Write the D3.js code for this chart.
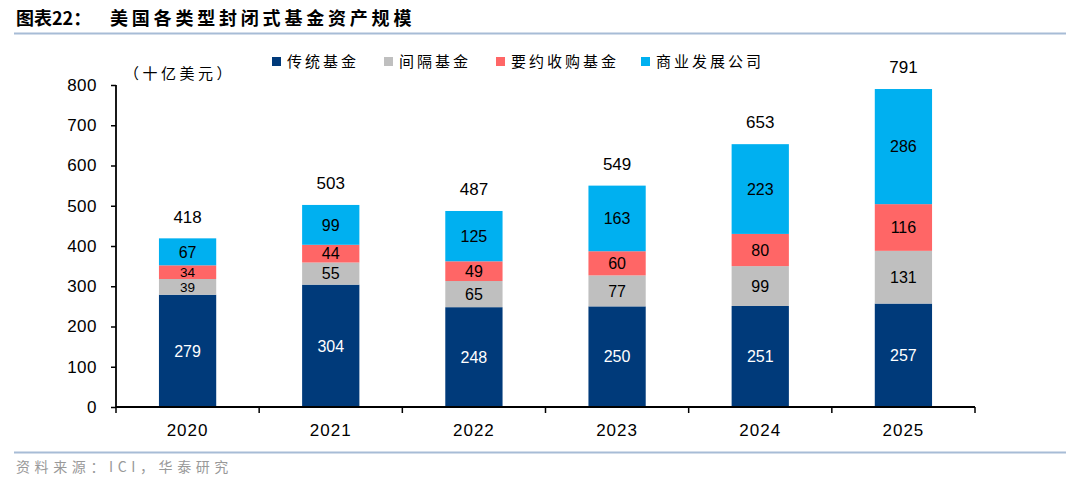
<!DOCTYPE html>
<html><head><meta charset="utf-8">
<script src="https://cdn.jsdelivr.net/npm/d3@7"></script>
<style>
body{margin:0;background:#fff;}
svg{display:block;}
</style></head>
<body>
<svg id="c" width="1080" height="486"></svg>
<script>
const categories = ["2020","2021","2022","2023","2024","2025"];
const seriesNames = ["传统基金","间隔基金","要约收购基金","商业发展公司"];
const traditional = [279,304,248,250,251,257];
const interval = [39,55,65,77,99,131];
const tender = [34,44,49,60,80,116];
const bdc = [67,99,125,163,223,286];
const totals = [418,503,487,549,653,791];
const yTicks = [0,100,200,300,400,500,600,700,800];
const colors = ["#003A7A","#BFBFBF","#FF6666","#00B0F0"];
const labelColors = ["#ffffff","#000000","#000000","#000000"];

const svg = d3.select("#c");
const numFont = "'Liberation Sans', Arial, sans-serif";
const cjkFont = "'Noto Sans CJK SC', sans-serif";

// title
svg.append("text").attr("x",16).attr("y",25)
  .attr("font-family",cjkFont).attr("font-weight","bold").attr("font-size",18)
  .attr("fill","#000")
  .text("图表22：");
svg.append("text").attr("x",110).attr("y",25)
  .attr("font-family",cjkFont).attr("font-weight","bold").attr("font-size",18)
  .attr("letter-spacing",3.8).attr("fill","#000")
  .text("美国各类型封闭式基金资产规模");
svg.append("line").attr("x1",14).attr("x2",1066).attr("y1",33.5).attr("y2",33.5)
  .attr("stroke","#A7BCD6").attr("stroke-width",2);
svg.append("line").attr("x1",14).attr("x2",1066).attr("y1",452.5).attr("y2",452.5)
  .attr("stroke","#A7BCD6").attr("stroke-width",2);
svg.append("text").attr("x",16).attr("y",472)
  .attr("font-family",cjkFont).attr("font-size",14).attr("letter-spacing",4.6)
  .attr("fill","#999999")
  .text("资料来源：ICI，华泰研究");

const x = d3.scaleBand().domain(categories).range([116,975]).paddingInner(0.6).paddingOuter(0.3);
const y = d3.scaleLinear().domain([0,800]).range([407,85]);

// unit
svg.append("text").attr("x",124).attr("y",79)
  .attr("font-family",cjkFont).attr("font-size",15).attr("letter-spacing",3.5)
  .attr("fill","#000").text("（十亿美元）");

// stacked data
const rows = categories.map((c,i)=>({cat:c, s0:traditional[i], s1:interval[i], s2:tender[i], s3:bdc[i], total:totals[i]}));
const stack = d3.stack().keys(["s0","s1","s2","s3"])(rows);

const g = svg.append("g");
stack.forEach((layer,li)=>{
  g.selectAll(null).data(layer).enter().append("rect")
    .attr("x",d=>x(d.data.cat))
    .attr("width",x.bandwidth())
    .attr("y",d=>y(d[1]))
    .attr("height",d=>y(d[0])-y(d[1]))
    .attr("fill",colors[li]);
  g.selectAll(null).data(layer).enter().append("text")
    .attr("x",d=>x(d.data.cat)+x.bandwidth()/2)
    .attr("y",d=>(y(d[0])+y(d[1]))/2)
    .attr("dy","0.36em")
    .attr("text-anchor","middle")
    .attr("font-family",numFont)
    .attr("font-size",d=>(y(d[0])-y(d[1]))<17 ? 13.5 : 16)
    .attr("fill",labelColors[li])
    .text(d=>d.data[layer.key]);
});
g.selectAll(null).data(rows).enter().append("text")
  .attr("x",d=>x(d.cat)+x.bandwidth()/2)
  .attr("y",d=>y(d.total)-16)
  .attr("text-anchor","middle")
  .attr("font-family",numFont).attr("font-size",17).attr("fill","#000")
  .text(d=>d.total);

// axes
const yAxis = d3.axisLeft(y).tickValues(yTicks).tickSize(5).tickPadding(14);
const ya = svg.append("g").attr("transform","translate(116,0)").call(yAxis);
ya.selectAll("text").attr("font-family",numFont).attr("font-size",17).attr("fill","#000").attr("letter-spacing",0.5);
ya.selectAll("line").attr("stroke","#000").attr("stroke-width",1.5);
ya.select(".domain").attr("stroke","#000").attr("stroke-width",1.8).attr("d","M0,407V85");

const xa = svg.append("g").attr("transform","translate(0,407)");
xa.append("line").attr("x1",116).attr("x2",975).attr("stroke","#000").attr("stroke-width",1.8);
const edges = d3.range(categories.length+1).map(i=>116+i*(859/categories.length));
xa.selectAll(null).data(edges).enter().append("line")
  .attr("x1",d=>d).attr("x2",d=>d).attr("y1",0).attr("y2",6)
  .attr("stroke","#000").attr("stroke-width",1.5);
xa.selectAll(null).data(categories).enter().append("text")
  .attr("x",d=>x(d)+x.bandwidth()/2).attr("y",29)
  .attr("text-anchor","middle")
  .attr("font-family",numFont).attr("font-size",17).attr("letter-spacing",1)
  .attr("fill","#000").text(d=>d);

// legend
const legX = [272,384,496,641];
const leg = svg.append("g");
seriesNames.forEach((n,i)=>{
  leg.append("rect").attr("x",legX[i]).attr("y",57).attr("width",9).attr("height",9).attr("fill",colors[i]);
  leg.append("text").attr("x",legX[i]+15).attr("y",67)
    .attr("font-family",cjkFont).attr("font-size",15).attr("letter-spacing",3)
    .attr("fill","#000").text(n);
});
</script>
</body></html>
